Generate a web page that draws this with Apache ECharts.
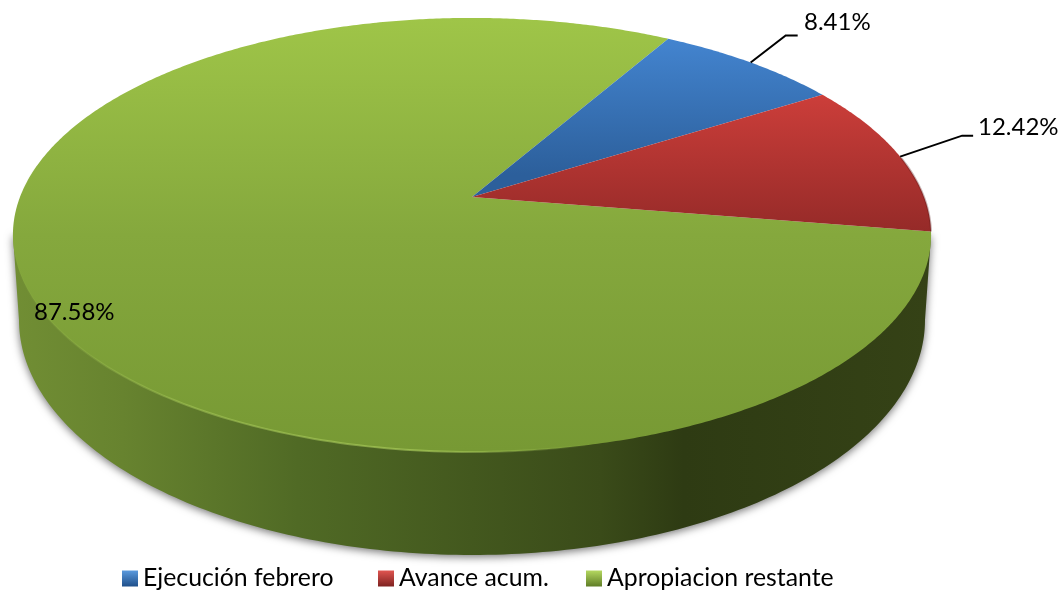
<!DOCTYPE html>
<html>
<head>
<meta charset="utf-8">
<style>
  html, body { margin: 0; padding: 0; background: #fff; }
  #chart { width: 1063px; height: 590px; }
</style>
<script src="https://cdn.jsdelivr.net/npm/echarts@6/dist/echarts.min.js"></script>
</head>
<body>
<div id="chart"></div>
<script>
const categories = ['Ejecución febrero', 'Avance acum.', 'Apropiacion restante'];
const values = [8.41, 12.42, 87.58];
const valueLabels = ['8.41%', '12.42%', '87.58%'];

const FONT = 'Lato, "Open Sans", sans-serif';
const startAngle = 60; // degrees, slices run clockwise from here
const total = values.reduce((acc, curr) => acc + curr, 0);

// tilted disc, with the centre of the pie drawn above the centre of the ellipse
const cx = 472, cy = 197, ra = 452, rb = 210.4, persp = 0.175;
// lower edge of the wall
const wall = { cy: 320, rx: 453, ry: 235 };

const project = (deg) => {
  const t = deg * Math.PI / 180;
  const w = 1 + persp * Math.sin(t);
  return [cx + ra * Math.cos(t) / w, cy - rb * Math.sin(t) / w];
};

const vGrad = (y0, y1, stops) => new echarts.graphic.LinearGradient(0, y0, 0, y1,
  stops.map((c) => ({ offset: c[0], color: c[1] })), true);

const fills = [
  vGrad(40, 175, [[0, '#4384cf'], [1, '#2c5f9b']]),
  vGrad(95, 232, [[0, '#cc3e3a'], [1, '#952a28']]),
  vGrad(18, 452, [[0, '#9fc548'], [0.5, '#85a83d'], [1, '#779934']])
];
const wallFill = new echarts.graphic.LinearGradient(13, 0, 931, 0, [
  { offset: 0, color: '#718e34' },
  { offset: 0.12, color: '#67832f' },
  { offset: 0.31, color: '#506a25' },
  { offset: 0.5, color: '#43581e' },
  { offset: 0.64, color: '#3a4b19' },
  { offset: 0.73, color: '#2e3b13' },
  { offset: 1, color: '#354216' }
], true);
const bevelStroke = new echarts.graphic.LinearGradient(13, 0, 600, 0, [
  { offset: 0, color: 'rgba(176,210,96,0)' },
  { offset: 0.3, color: 'rgba(176,210,96,0.45)' },
  { offset: 0.7, color: 'rgba(176,210,96,0.6)' },
  { offset: 1, color: 'rgba(176,210,96,0)' }
], true);

// label placement per slice: leader elbow and end relative to the rim, text position
const leaders = [
  { elbow: [35, -27], end: [47, -27], text: [804, 22] },
  { elbow: [62, -21], end: [73, -21], text: [978, 127] },
  { text: [34, 312] }
];
const legendIcons = [
  ['#5a9ade', '#1f4f8a'],
  ['#e05550', '#7e2220'],
  ['#b4d860', '#5f7d26']
];
const legendLeft = [117, 373, 581];

function sliceRange(index) {
  const before = values.slice(0, index).reduce((acc, curr) => acc + curr, 0);
  const from = startAngle - before / total * 360;
  return [from, from - values[index] / total * 360];
}

function renderSlice(index, params, api) {
  const [from, to] = sliceRange(index);
  const rim = [];
  for (let a = from; a >= to; a -= 0.5) rim.push(project(a));
  rim.push(project(to));
  const children = [];

  if (index === 2) {
    // side wall, only the front of it shows
    const edge = [project(-10), [cx + wall.rx, wall.cy]];
    for (let a = 0; a <= 180; a += 1) {
      const t = a * Math.PI / 180;
      edge.push([cx + wall.rx * Math.cos(t), wall.cy + wall.ry * Math.sin(t)]);
    }
    edge.push(project(190));
    children.push({
      type: 'polygon',
      shape: { points: edge },
      style: { fill: wallFill, shadowBlur: 8, shadowColor: 'rgba(0,0,0,0.55)', shadowOffsetY: 2 }
    });
  }

  children.push({
    type: 'polygon',
    shape: { points: [[cx, cy]].concat(rim) },
    style: { fill: fills[index] }
  });

  if (index === 1) {
    // soft dark edge on the red slice
    children.push({
      type: 'polyline',
      shape: { points: rim.slice(Math.floor(rim.length / 2)) },
      style: { fill: null, stroke: 'rgba(80,20,20,0.3)', lineWidth: 2 }
    });
  }

  if (index === 2) {
    // light bevel along the front of the top face
    const bevel = [];
    for (let a = 172; a <= 282; a += 1) bevel.push(project(a));
    children.push({
      type: 'polyline',
      shape: { points: bevel },
      style: { fill: null, stroke: bevelStroke, lineWidth: 2 }
    });
  }

  const leader = leaders[index];
  if (leader.elbow) {
    const p = project((from + to) / 2);
    children.push({
      type: 'polyline',
      shape: { points: [p, [p[0] + leader.elbow[0], p[1] + leader.elbow[1]], [p[0] + leader.end[0], p[1] + leader.end[1]]] },
      style: { fill: null, stroke: '#000', lineWidth: 2 }
    });
  }
  children.push({
    type: 'text',
    x: leader.text[0],
    y: leader.text[1],
    style: { text: valueLabels[index], font: '24px ' + FONT, fill: '#000', textVerticalAlign: 'middle' }
  });
  return { type: 'group', children };
}

const chart = echarts.init(document.getElementById('chart'));
chart.setOption({
  animation: false,
  backgroundColor: '#fff',
  legend: categories.map((name, i) => ({
    left: legendLeft[i],
    top: 561,
    itemWidth: 16,
    itemHeight: 16,
    itemGap: 0,
    textStyle: { fontFamily: FONT, fontSize: 24.8, color: '#000' },
    data: [{
      name,
      icon: 'rect',
      itemStyle: {
        color: new echarts.graphic.LinearGradient(0, 0, 0, 1, [
          { offset: 0, color: legendIcons[i][0] },
          { offset: 1, color: legendIcons[i][1] }
        ])
      }
    }]
  })),
  series: categories.map((name, i) => ({
    name,
    type: 'custom',
    coordinateSystem: 'none',
    z: i === 2 ? 1 : 2,
    silent: true,
    data: [[values[i]]],
    renderItem: (params, api) => renderSlice(i, params, api)
  }))
});
</script>
</body>
</html>
